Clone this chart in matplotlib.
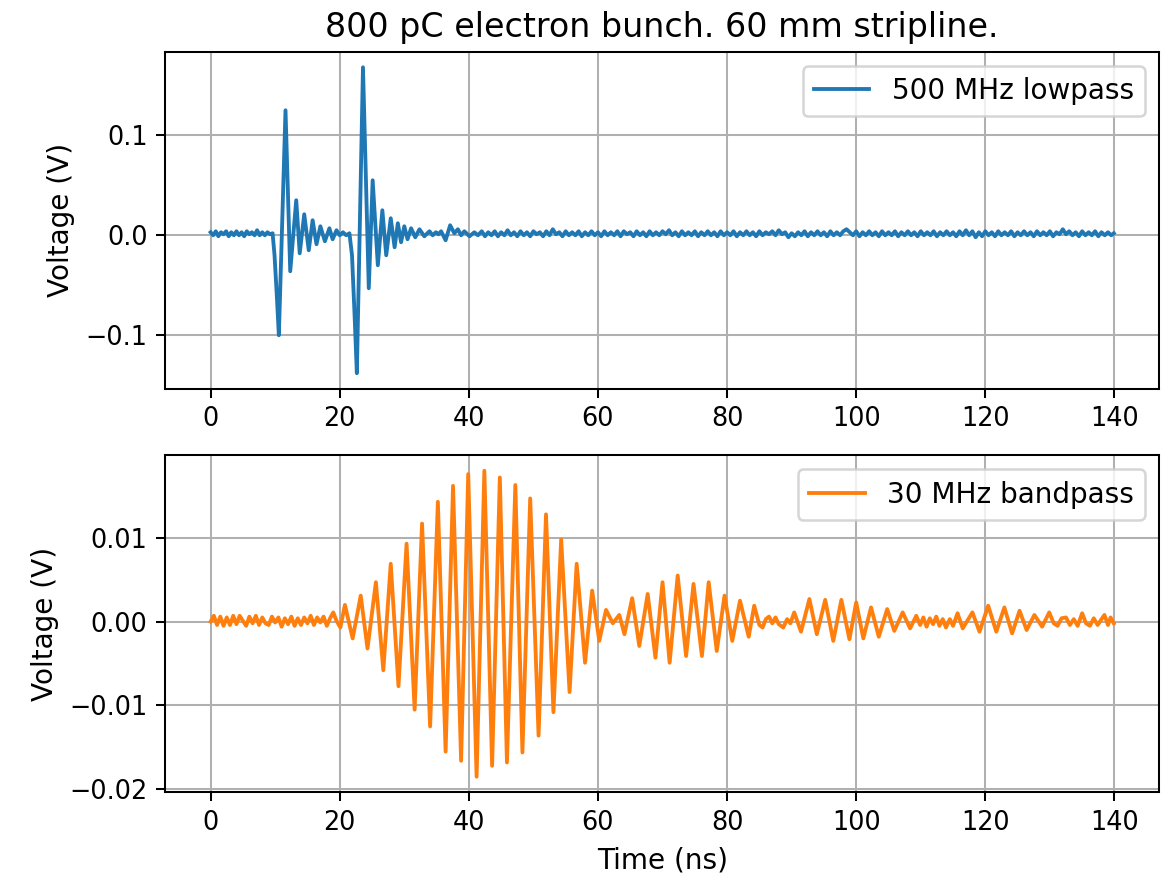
"""Stripline pickup signals for an 800 pC electron bunch (lowpass vs bandpass)."""

import matplotlib
matplotlib.use("Agg")
import matplotlib.pyplot as plt
import numpy as np

TITLE = "800 pC electron bunch. 60 mm stripline."
LABEL_LOWPASS = "500 MHz lowpass"
LABEL_BANDPASS = "30 MHz bandpass"

# ------------------------------------------------------------------ #
# 500 MHz lowpass trace (time in ns, voltage in V)
# ------------------------------------------------------------------ #
lowpass_pulse_t = [
    0.0, 0.4, 0.8, 1.2, 1.6, 2.0, 2.4, 2.8, 3.2, 3.6, 4.0, 4.4, 4.8,
    5.2, 5.6, 6.0, 6.4, 6.8, 7.2, 7.6, 8.0, 8.4, 8.8, 9.2, 9.6,
    9.9, 10.25, 10.57, 11.6, 12.33, 13.26, 13.8, 14.5, 15.2, 15.8,
    16.4, 17.0, 17.7, 18.4, 18.9, 19.5, 20.0, 20.5, 21.0, 21.5,
    21.9, 22.3, 22.65, 23.6, 24.5, 25.1, 25.9, 26.6, 27.2, 27.9,
    28.5, 29.0, 29.5, 30.0, 30.5, 31.05, 31.7, 32.35, 33.1, 33.9,
    34.4, 34.9, 35.3, 35.7, 36.4, 37.1, 37.75, 38.3, 38.8, 39.3,
    40.1, 40.85, 41.4,
]
lowpass_pulse_v = [
    0.003, 0.000, 0.004, -0.001, 0.003, 0.001, 0.004, -0.001, 0.003, 0.000,
    0.004, 0.000, 0.003, -0.001, 0.004, 0.001, 0.003, 0.000, 0.005, 0.000,
    0.003, 0.000, 0.003, 0.001, 0.002,
    -0.020, -0.060, -0.100, 0.125, -0.036, 0.035, -0.018, 0.021, -0.015, 0.015,
    -0.009, 0.009, -0.006, 0.007, -0.004, 0.005, 0.000, 0.003, 0.000, 0.002,
    -0.020, -0.080, -0.138, 0.168, -0.053, 0.055, -0.030, 0.025, -0.020, 0.017,
    -0.012, 0.012, -0.007, 0.009, -0.004, 0.007, -0.002, 0.006, -0.001, 0.004,
    0.000, 0.003, 0.001, 0.004, -0.005, 0.010, 0.002, 0.006, 0.000, 0.004,
    -0.001, 0.003, 0.000,
]
lowpass_tail_t = [
    42.0, 42.5, 43.0, 43.5, 44.0, 44.5, 45.0, 45.5, 46.0, 46.5,
    47.0, 47.5, 48.0, 48.5, 49.0, 49.5, 50.0, 50.5, 51.0, 51.5,
    52.0, 52.5, 53.0, 53.5, 54.0, 54.5, 55.0, 55.5, 56.0, 56.5,
    57.0, 57.5, 58.0, 58.5, 59.0, 59.5, 60.0, 60.5, 61.0, 61.5,
    62.0, 62.5, 63.0, 63.5, 64.0, 64.5, 65.0, 65.5, 66.0, 66.5,
    67.0, 67.5, 68.0, 68.5, 69.0, 69.5, 70.0, 70.5, 71.0, 71.5,
    72.0, 72.5, 73.0, 73.5, 74.0, 74.5, 75.0, 75.5, 76.0, 76.5,
    77.0, 77.5, 78.0, 78.5, 79.0, 79.5, 80.0, 80.5, 81.0, 81.5,
    82.0, 82.5, 83.0, 83.5, 84.0, 84.5, 85.0, 85.5, 86.0, 86.5,
    87.0, 87.5, 88.0, 88.5, 89.0, 89.5, 90.0, 90.5, 91.0, 91.5,
    92.0, 92.5, 93.0, 93.5, 94.0, 94.5, 95.0, 95.5, 96.0, 96.5,
    97.0, 97.5, 98.0, 98.5, 99.0, 99.5, 100.0, 100.5, 101.0, 101.5,
    102.0, 102.5, 103.0, 103.5, 104.0, 104.5, 105.0, 105.5, 106.0, 106.5,
    107.0, 107.5, 108.0, 108.5, 109.0, 109.5, 110.0, 110.5, 111.0, 111.5,
    112.0, 112.5, 113.0, 113.5, 114.0, 114.5, 115.0, 115.5, 116.0, 116.5,
    117.0, 117.5, 118.0, 118.5, 119.0, 119.5, 120.0, 120.5, 121.0, 121.5,
    122.0, 122.5, 123.0, 123.5, 124.0, 124.5, 125.0, 125.5, 126.0, 126.5,
    127.0, 127.5, 128.0, 128.5, 129.0, 129.5, 130.0, 130.5, 131.0, 131.5,
    132.0, 132.5, 133.0, 133.5, 134.0, 134.5, 135.0, 135.5, 136.0, 136.5,
    137.0, 137.5, 138.0, 138.5, 139.0, 139.5, 139.9,
]
lowpass_tail_v = [
    0.004, -0.001, 0.003, 0.000, 0.004, -0.001, 0.003, 0.000, 0.005, 0.000,
    0.003, -0.001, 0.004, 0.000, 0.003, -0.001, 0.004, 0.001, 0.003, -0.001,
    0.004, 0.000, 0.006, 0.001, 0.003, -0.001, 0.004, 0.000, 0.003, 0.000,
    0.004, -0.001, 0.003, 0.000, 0.004, 0.000, 0.003, -0.001, 0.004, 0.000,
    0.003, 0.000, 0.004, -0.001, 0.004, 0.001, 0.003, -0.001, 0.004, 0.000,
    0.003, -0.001, 0.004, 0.000, 0.003, 0.000, 0.004, 0.001, 0.005, 0.000,
    0.003, -0.001, 0.004, 0.000, 0.003, 0.000, 0.004, -0.001, 0.003, 0.000,
    0.004, 0.000, 0.003, -0.001, 0.004, 0.000, 0.003, 0.000, 0.004, -0.001,
    0.003, 0.000, 0.004, 0.000, 0.003, -0.001, 0.004, 0.000, 0.003, 0.001,
    0.004, 0.000, 0.005, 0.001, 0.003, -0.002, 0.002, -0.001, 0.003, 0.000,
    0.004, -0.001, 0.003, 0.000, 0.004, 0.000, 0.003, -0.001, 0.004, 0.000,
    0.003, 0.000, 0.004, 0.006, 0.003, 0.000, 0.004, -0.001, 0.003, 0.000,
    0.004, 0.000, 0.003, -0.001, 0.004, 0.000, 0.003, 0.000, 0.004, -0.001,
    0.003, 0.000, 0.004, 0.000, 0.003, -0.001, 0.004, 0.000, 0.003, 0.000,
    0.004, -0.001, 0.003, 0.000, 0.004, 0.000, 0.003, -0.001, 0.004, 0.000,
    0.005, 0.000, 0.004, -0.002, 0.003, -0.001, 0.004, 0.000, 0.003, -0.001,
    0.004, 0.000, 0.003, 0.000, 0.004, -0.001, 0.003, 0.000, 0.004, 0.000,
    0.003, -0.001, 0.004, 0.000, 0.003, 0.000, 0.004, -0.001, 0.003, 0.001,
    0.006, 0.001, 0.004, 0.000, 0.003, -0.001, 0.004, 0.000, 0.003, 0.000,
    0.004, -0.001, 0.003, 0.000, 0.003, 0.000, 0.002,
]

# ------------------------------------------------------------------ #
# 30 MHz bandpass trace (time in ns, voltage in V)
# ------------------------------------------------------------------ #
bandpass_quiet_t = [
    0.0, 0.5, 1.0, 1.5, 2.0, 2.5, 3.0, 3.5, 4.0, 4.5,
    5.0, 5.5, 6.0, 6.5, 7.0, 7.5, 8.0, 8.5, 9.0, 9.5,
    10.0, 10.5, 11.0, 11.5, 12.0, 12.5, 13.0, 13.5, 14.0, 14.5,
    15.0, 15.5, 16.0, 16.5, 17.0, 17.5, 18.0, 18.5, 19.0, 19.5,
    20.1,
]
bandpass_quiet_v = [
    0.0000, 0.0007, -0.0004, 0.0006, -0.0005, 0.0005, -0.0004, 0.0007, -0.0003, 0.0007,
    0.0001, -0.0005, 0.0006, -0.0002, 0.0007, -0.0004, 0.0005, -0.0002, -0.0004, 0.0006,
    -0.0001, 0.0005, -0.0006, 0.0004, -0.0003, 0.0006, -0.0005, 0.0004, -0.0004, 0.0005,
    -0.0002, 0.0007, -0.0004, 0.0005, -0.0001, 0.0006, -0.0005, 0.0004, 0.0011, 0.0001,
    -0.0007,
]
bandpass_burst_t = [
    20.8, 22.0, 23.25, 24.3, 25.6, 26.75, 27.9, 29.1, 30.35, 31.6,
    32.75, 34.0, 35.2, 36.4, 37.55, 38.8, 39.9, 41.2, 42.4, 43.6,
    44.8, 45.9, 47.2, 48.3, 49.5, 50.8, 51.95, 53.1, 54.3, 55.6,
    56.7, 58.0, 59.1, 60.2, 61.25, 62.3, 63.3, 64.1, 65.3, 66.4,
    67.7, 68.9, 70.0, 71.1, 72.35, 73.65, 74.8, 76.1, 77.15, 78.4,
    79.6, 80.8, 82.0, 83.35, 84.2,
]
bandpass_burst_v = [
    0.0020, -0.0020, 0.0031, -0.0032, 0.0047, -0.0058, 0.0069, -0.0077, 0.0093, -0.0105,
    0.0117, -0.0125, 0.0143, -0.0155, 0.0162, -0.0166, 0.0176, -0.0185, 0.0180, -0.0172,
    0.0172, -0.0168, 0.0163, -0.0156, 0.0147, -0.0136, 0.0128, -0.0108, 0.0098, -0.0084,
    0.0069, -0.0049, 0.0037, -0.0023, 0.0014, -0.0002, 0.0008, -0.0015, 0.0028, -0.0029,
    0.0033, -0.0043, 0.0047, -0.0049, 0.0055, -0.0041, 0.0045, -0.0041, 0.0047, -0.0035,
    0.0031, -0.0023, 0.0025, -0.0018, 0.0019,
]
bandpass_echo_t = [
    85.0, 85.5, 86.0, 86.5, 87.0, 87.5, 88.0, 88.7, 89.3, 89.8,
    90.4, 91.45, 92.75, 93.9, 95.2, 96.45, 97.7, 98.95, 100.0, 101.1,
    102.3, 103.5, 104.8, 105.9, 107.2, 108.35, 109.3, 109.9, 110.4, 110.9,
    111.4, 111.9, 112.4, 112.9, 113.4, 113.9, 114.5, 115.0, 115.7, 116.5,
    117.3, 118.0, 119.1, 120.45, 121.7, 122.95, 124.15, 125.3, 126.4, 127.6,
    128.8, 129.9, 130.6, 131.2, 131.8, 132.5, 133.1, 133.7, 134.3, 135.0,
    135.6, 136.2, 136.8, 137.4, 138.0, 138.45, 139.0, 139.4, 139.9,
]
bandpass_echo_v = [
    -0.0004, -0.0007, 0.0003, 0.0006, -0.0002, 0.0005, -0.0003, -0.0007, 0.0003, -0.0002,
    0.0011, -0.0012, 0.0027, -0.0015, 0.0026, -0.0023, 0.0026, -0.0021, 0.0023, -0.0020,
    0.0017, -0.0018, 0.0015, -0.0011, 0.0011, -0.0008, 0.0007, -0.0004, 0.0005, -0.0006,
    0.0004, -0.0003, 0.0006, -0.0005, 0.0003, -0.0007, 0.0003, -0.0005, 0.0010, -0.0008,
    0.0002, 0.0011, -0.0012, 0.0019, -0.0012, 0.0017, -0.0014, 0.0013, -0.0010, 0.0008,
    -0.0006, 0.0011, -0.0002, -0.0005, 0.0004, 0.0005, -0.0004, 0.0003, -0.0005, 0.0010,
    -0.0002, -0.0005, 0.0004, -0.0004, 0.0003, 0.0008, -0.0004, 0.0005, -0.0002,
]


def main() -> None:
    lp_t = np.concatenate([lowpass_pulse_t, lowpass_tail_t])
    lp_v = np.concatenate([lowpass_pulse_v, lowpass_tail_v])
    bp_t = np.concatenate([bandpass_quiet_t, bandpass_burst_t, bandpass_echo_t])
    bp_v = np.concatenate([bandpass_quiet_v, bandpass_burst_v, bandpass_echo_v])

    plt.rcParams.update({
        "font.size": 10.9,
        "xtick.labelsize": 10,
        "ytick.labelsize": 10,
    })
    fig, (ax1, ax2) = plt.subplots(2, 1, figsize=(1176 / 184, 880 / 184), dpi=184)
    fig.subplots_adjust(left=0.1407, right=0.9855, top=0.9409, bottom=0.1, hspace=0.199)

    # top: lowpass
    ax1.plot(lp_t, lp_v, color="C0", label=LABEL_LOWPASS)
    ax1.set_ylabel("Voltage (V)")
    ax1.set_title(TITLE, fontsize=13)
    ax1.legend(loc="upper right")
    ax1.grid(True)

    # bottom: bandpass
    ax2.plot(bp_t, bp_v, color="C1", label=LABEL_BANDPASS)
    ax2.set_ylabel("Voltage (V)")
    ax2.set_xlabel("Time (ns)")
    ax2.legend(loc="upper right")
    ax2.grid(True)

    fig.savefig("out.png", dpi=184)
    plt.close(fig)


if __name__ == "__main__":
    main()
